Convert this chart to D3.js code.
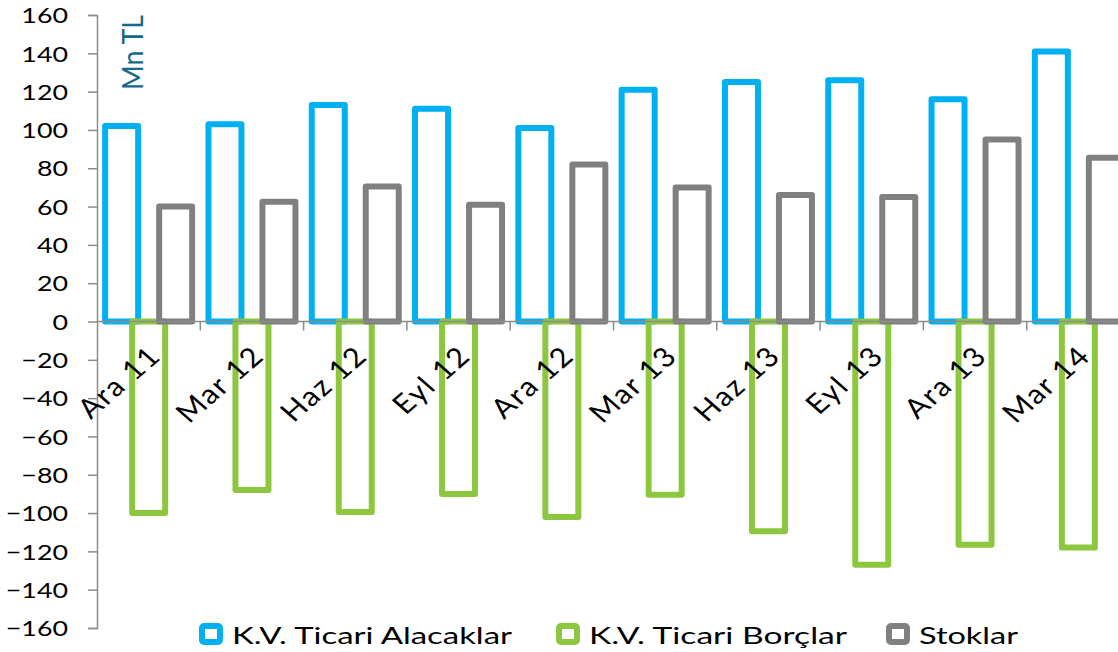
<!DOCTYPE html>
<html>
<head>
<meta charset="utf-8">
<script src="https://cdn.jsdelivr.net/npm/d3@7"></script>
<style>
  html, body { margin: 0; padding: 0; background: #fff; }
  svg { display: block; font-family: Lato, "Open Sans", sans-serif; }
</style>
</head>
<body>
<svg id="chart" width="1118" height="652"></svg>
<script>
// Quarterly balance sheet items (million TL)
const categories = ["Ara 11", "Mar 12", "Haz 12", "Eyl 12", "Ara 12", "Mar 13", "Haz 13", "Eyl 13", "Ara 13", "Mar 14"];
const seriesNames = ["K.V. Ticari Alacaklar", "K.V. Ticari Borçlar", "Stoklar"];
const receivables = [102, 103, 113, 111, 101, 121, 125, 126, 116, 141];
const payables = [-100, -88, -99.5, -90, -102, -90.5, -109.5, -127, -116.5, -118];
const inventories = [60, 62.5, 70.5, 61, 82, 70, 66, 65, 95, 85.5];
const yTicks = d3.range(-160, 161, 20);
const unitLabel = "Mn TL";

const colors = ["#00b0f0", "#8dc63f", "#808080"];
const seriesValues = [receivables, payables, inventories];

const svg = d3.select("#chart");
const axisColor = "#8c8c8c";
const textStretch = 1.22;

const x = d3.scaleBand().domain(categories).range([97, 97 + 103.3 * categories.length]).paddingInner(0).paddingOuter(0);
const y = d3.scaleLinear().domain([-160, 160]).range([628, 15]);

// offsets of the three bars inside a category (bars overlap)
const inner = d3.scaleBand().domain(seriesNames).range([-40.5, 40.5]);
const barW = 33;

// y axis
const yAxis = d3.axisLeft(y).tickValues(yTicks).tickSize(9).tickPadding(0).tickFormat(d3.format("d"));
const gy = svg.append("g").attr("transform", "translate(97,0)").call(yAxis);
gy.select(".domain").attr("stroke", axisColor).attr("stroke-width", 1.5);
gy.selectAll(".tick line").attr("stroke", axisColor).attr("stroke-width", 1.5);
gy.selectAll(".tick text")
  .attr("x", 0).attr("dy", "0.35em")
  .attr("transform", `translate(-29,0) scale(${textStretch},1)`)
  .attr("font-size", 22).attr("fill", "#000")
  .style("font-family", "Lato, sans-serif");

// bars
seriesNames.forEach((name, si) => {
  svg.append("g").selectAll("rect")
    .data(categories.map((c, i) => ({ c, v: seriesValues[si][i] })))
    .join("rect")
    .attr("x", d => x(d.c) + x.bandwidth() / 2 + inner(name) + inner.bandwidth() / 2 - barW / 2)
    .attr("y", d => Math.min(y(d.v), y(0)))
    .attr("width", barW)
    .attr("height", d => Math.abs(y(d.v) - y(0)))
    .attr("fill", "none")
    .attr("stroke", colors[si])
    .attr("stroke-width", 6)
    .attr("stroke-linejoin", "round");
});

// category axis along zero
const x0 = x.range()[0], x1 = x.range()[1];
svg.append("line").attr("x1", x0).attr("x2", x1).attr("y1", y(0)).attr("y2", y(0))
  .attr("stroke", axisColor).attr("stroke-width", 1.5);
svg.append("g").selectAll("line")
  .data(categories.slice(1))
  .join("line")
  .attr("x1", d => x(d)).attr("x2", d => x(d))
  .attr("y1", y(0)).attr("y2", y(0) + 9)
  .attr("stroke", axisColor).attr("stroke-width", 1.5);

// rotated category labels
svg.append("g").selectAll("text")
  .data(categories)
  .join("text")
  .attr("transform", d => `translate(${x(d) + x.bandwidth() / 2 + 14},${y(0) + 36}) scale(1.15,1) rotate(-45)`)
  .attr("text-anchor", "end")
  .attr("font-size", 27)
  .attr("letter-spacing", 1.5)
  .attr("fill", "#000")
  .text(d => d);

// unit label
svg.append("text")
  .attr("transform", `translate(143,90) scale(${textStretch},1) rotate(-90)`)
  .attr("font-size", 23)
  .attr("fill", "#12698a")
  .attr("textLength", 75)
  .attr("lengthAdjust", "spacingAndGlyphs")
  .text(unitLabel);

// legend
const legendX = [199, 556, 886];
const legendTextLen = [280, 258, 99];
const lg = svg.append("g");
seriesNames.forEach((name, i) => {
  lg.append("rect")
    .attr("x", legendX[i] + 3).attr("y", 626)
    .attr("width", 18).attr("height", 16)
    .attr("rx", 2)
    .attr("fill", "#fff")
    .attr("stroke", colors[i]).attr("stroke-width", 6)
    .attr("stroke-linejoin", "round");
  lg.append("text")
    .attr("x", legendX[i] + 33).attr("y", 644)
    .attr("font-size", 24)
    .attr("fill", "#000")
    .attr("textLength", legendTextLen[i])
    .attr("lengthAdjust", "spacingAndGlyphs")
    .text(name);
});
</script>
</body>
</html>
